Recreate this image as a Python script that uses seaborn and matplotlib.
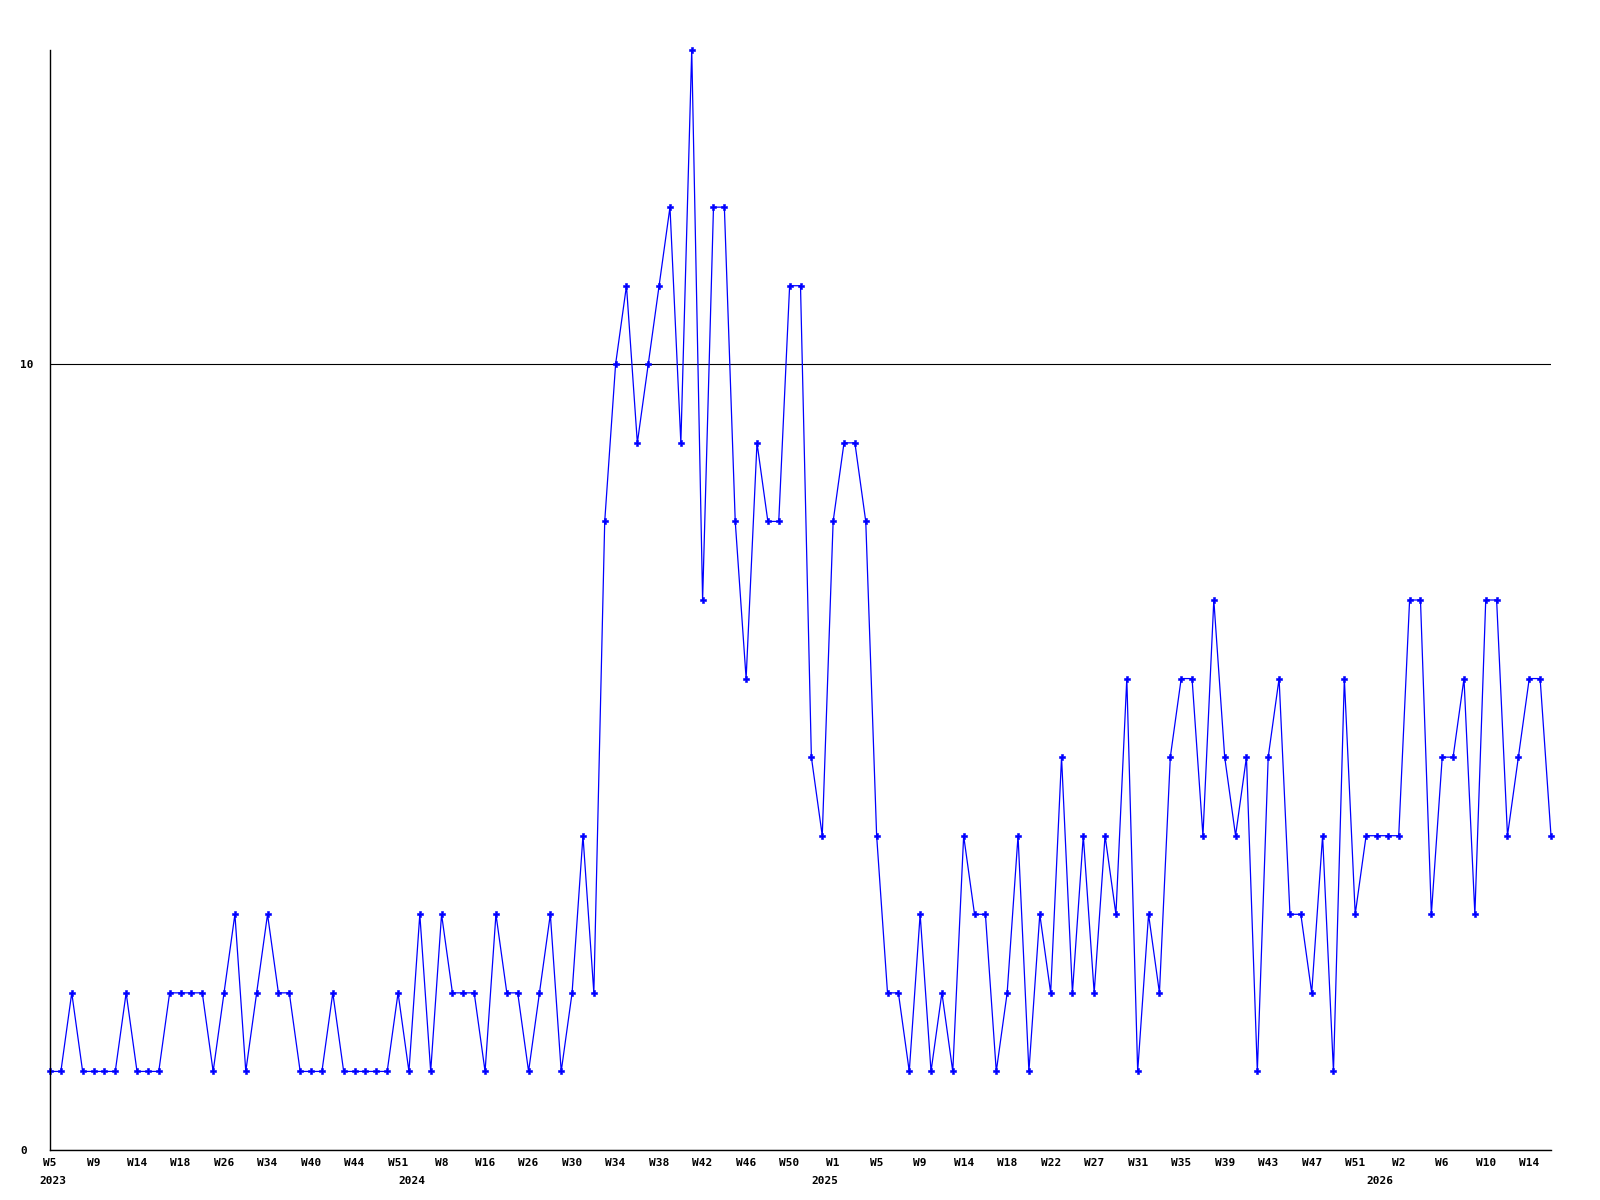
import matplotlib
matplotlib.use("Agg")
import matplotlib.pyplot as plt
import seaborn as sns
import pandas as pd

# ---- data ----
values = [
    1, 1, 2, 1, 1, 1, 1, 2, 1, 1, 1, 2, 2, 2, 2, 1, 2, 3, 1, 2,
    3, 2, 2, 1, 1, 1, 2, 1, 1, 1, 1, 1, 2, 1, 3, 1, 3, 2, 2, 2,
    1, 3, 2, 2, 1, 2, 3, 1, 2, 4, 2, 8, 10, 11, 9, 10, 11, 12, 9, 14,
    7, 12, 12, 8, 6, 9, 8, 8, 11, 11, 5, 4, 8, 9, 9, 8, 4, 2, 2, 1,
    3, 1, 2, 1, 4, 3, 3, 1, 2, 4, 1, 3, 2, 5, 2, 4, 2, 4, 3, 6,
    1, 3, 2, 5, 6, 6, 4, 7, 5, 4, 5, 1, 5, 6, 3, 3, 2, 4, 1,
    6, 3, 4, 4, 4, 4, 7, 7, 3, 5, 5, 6, 3, 7, 7, 4, 5, 6, 6, 4,
]
week_labels = [
    "W5", "W9", "W14", "W18", "W26", "W34", "W40", "W44", "W51",
    "W8", "W16", "W26", "W30", "W34", "W38", "W42", "W46", "W50",
    "W1", "W5", "W9", "W14", "W18", "W22", "W27", "W31", "W35", "W39", "W43", "W47", "W51",
    "W2", "W6", "W10", "W14",
]
year_labels = ["2023", "2024", "2025", "2026"]
y_ticks = [0, 10]

df = pd.DataFrame({"idx": range(len(values)), "value": values})

sns.set_style("white")
plt.rcParams["font.family"] = ["DejaVu Sans Mono", "DejaVu Sans"]
plt.rcParams["text.color"] = "black"
plt.rcParams["xtick.color"] = "black"
plt.rcParams["ytick.color"] = "black"

fig = plt.figure(figsize=(16, 12), dpi=100)
ax = fig.add_axes([50 / 1600, 50 / 1200, 1501 / 1600, 1100 / 1200])

sns.lineplot(data=df, x="idx", y="value", ax=ax, color="#0000ff", lw=0.9,
             marker="P", markersize=4, markeredgewidth=0.4,
             markeredgecolor="#0000ff", clip_on=False)

ax.set_xlim(0, len(values) - 1)
ax.set_ylim(0, 14)

# spines
for s in ["top", "right"]:
    ax.spines[s].set_visible(False)
for s in ["left", "bottom"]:
    ax.spines[s].set_color("black")
    ax.spines[s].set_linewidth(1.0)

# y ticks & grid line at 10
ax.set_yticks(y_ticks)
ax.set_yticklabels([str(v) for v in y_ticks], fontsize=8, fontweight="bold",
                   color="black")
ax.tick_params(axis="y", length=0, pad=21.6)
for lab in ax.get_yticklabels():
    lab.set_horizontalalignment("left")
ax.yaxis.grid(True, color="black", lw=0.8)
ax.xaxis.grid(False)

# x ticks every 4 points
ax.set_xticks(list(range(0, len(values), 4))[:len(week_labels)])
ax.set_xticklabels(week_labels, fontsize=8, fontweight="bold", color="black")
ax.tick_params(axis="x", length=0, pad=6)

# year labels
year_pos = [0.3, 33.3, 71.2, 122.3]
for yl, xp in zip(year_labels, year_pos):
    ax.annotate(yl, xy=(xp, 0), xycoords=("data", "axes fraction"),
                xytext=(0, -22.3), textcoords="offset points",
                ha="center", va="center", fontsize=8, fontweight="bold",
                color="black", annotation_clip=False)

ax.set_xlabel("")
ax.set_ylabel("")

fig.savefig("out.png", dpi=100)
